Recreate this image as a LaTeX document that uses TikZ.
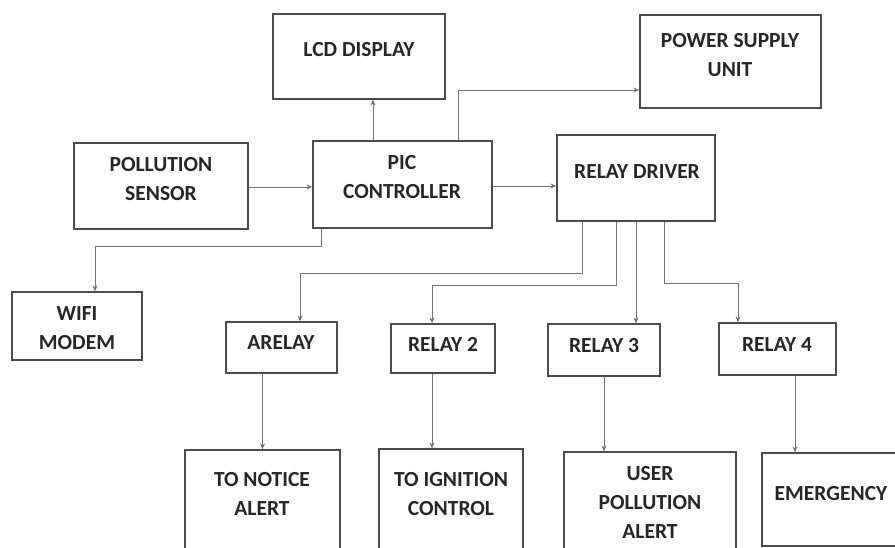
\documentclass[tikz,border=0pt]{standalone}
\usepackage{fontspec}
\setmainfont{Carlito}[BoldFont={Carlito Bold}]
\usetikzlibrary{arrows.meta,calc}
\definecolor{boxc}{gray}{0.3}
\definecolor{linec}{gray}{0.45}
\definecolor{txtc}{gray}{0.15}
\tikzset{
  box/.style={draw=boxc,line width=1.3pt,inner sep=0pt,fill=none},
  lbl/.style={text=txtc,font=\fontsize{21.5}{29}\selectfont\bfseries,align=center,inner sep=0pt},
  conn/.style={draw=linec,line width=0.9pt,-{Stealth[length=6pt,width=5pt]}}
}
\newcommand{\blk}[5]{\node[box,minimum width={#4-#2},minimum height={#5-#3}] (#1) at ({(#2+#4)/2},{(#3+#5)/2}) {};}
\begin{document}
\begin{tikzpicture}[x=1pt,y=-1pt]
\useasboundingbox (0,0) rectangle (895,548);
\clip (0,0) rectangle (895,548);
\fill[white] (0,0) rectangle (895,548);
% boxes
\blk{lcd}{273}{14}{445}{99}
\blk{psu}{640}{15}{821}{108}
\blk{sensor}{74}{143}{248}{229}
\blk{pic}{313}{141}{492}{228}
\blk{rd}{557}{135}{715}{221}
\blk{wifi}{12}{292}{142}{360}
\blk{arelay}{226}{322}{337}{373}
\blk{relaytwo}{391}{324}{495}{373}
\blk{relaythree}{548}{324}{660}{376}
\blk{relayfour}{719}{323}{836}{375}
\blk{notice}{185}{450}{340}{570}
\blk{ign}{379}{449}{523}{570}
\blk{user}{564}{452}{736}{570}
\blk{emerg}{762}{453}{910}{546}
% texts
\node[lbl] (tlcd) at (359,50) {LCD DISPLAY};
\node[lbl] (tpsu) at (730,55) {POWER SUPPLY\\UNIT};
\node[lbl] (tsensor) at (161,179) {POLLUTION\\SENSOR};
\node[lbl] (tpic) at (402,177.5) {PIC\\CONTROLLER};
\node[lbl] (trd) at (637,172) {RELAY DRIVER};
\node[lbl] (twifi) at (77,328) {WIFI\\MODEM};
\node[lbl] (tarelay) at (281,343) {ARELAY};
\node[lbl] (trelaytwo) at (443,344) {RELAY 2};
\node[lbl] (trelaythree) at (604,346) {RELAY 3};
\node[lbl] (trelayfour) at (777,345) {RELAY 4};
\node[lbl] (tnotice) at (262,494) {TO NOTICE\\ALERT};
\node[lbl] (tign) at (451,494) {TO IGNITION\\CONTROL};
\node[lbl] (tuser) at (650,502) {USER\\POLLUTION\\ALERT};
\node[lbl] (temerg) at (831,494) {EMERGENCY};
% connectors
\draw[conn] ([yshift=-1pt]sensor.east) -- ([yshift=-1pt]sensor.east -| pic.west);
\draw[conn] ([xshift=-29.5pt]pic.north) -- ([xshift=-29.5pt]pic.north |- lcd.south);
\draw[conn] ([xshift=55.5pt]pic.north) |- ([yshift=-28.5pt]psu.west);
\draw[conn] ([yshift=-1.5pt]pic.east) -- ([yshift=-1.5pt]pic.east -| rd.west);
\draw[conn] ([xshift=-81.5pt]pic.south) -- ++(0,18) -| ([xshift=18pt]wifi.north);
\draw[conn] ([xshift=-54pt]rd.south) -- ++(0,52) -| ([xshift=18.5pt]arelay.north);
\draw[conn] ([xshift=-20pt]rd.south) -- ++(0,64) -| ([xshift=-11pt]relaytwo.north);
\draw[conn] (rd.south) -- (rd.south |- relaythree.north);
\draw[conn] ([xshift=28pt]rd.south) -- ++(0,62) -| ([xshift=-39.5pt]relayfour.north);
\draw[conn] (notice.north |- arelay.south) -- (notice.north);
\draw[conn] ([xshift=-11pt]relaytwo.south) -- ([xshift=-11pt]relaytwo.south |- ign.north);
\draw[conn] (relaythree.south) -- (relaythree.south |- user.north);
\draw[conn] ([xshift=17.5pt]relayfour.south) -- ([xshift=17.5pt]relayfour.south |- emerg.north);
\end{tikzpicture}
\end{document}
